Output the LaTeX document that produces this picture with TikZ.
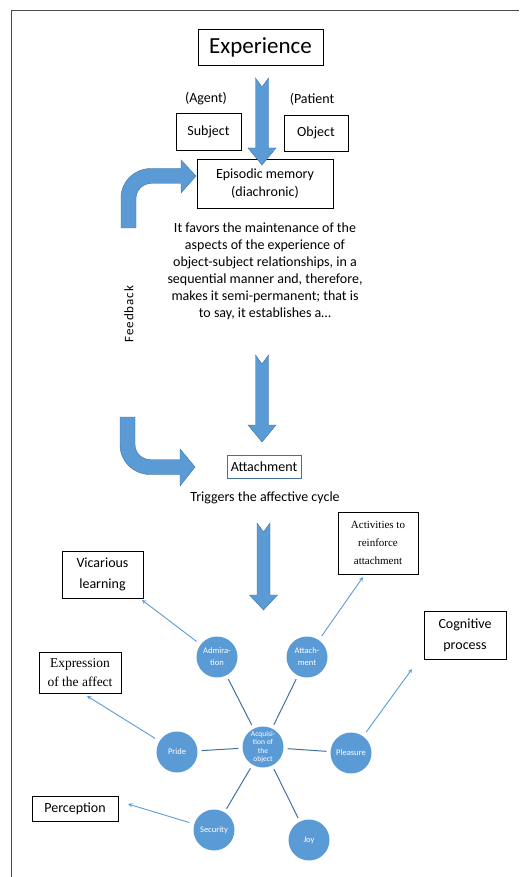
\documentclass[tikz,border=0pt]{standalone}
\usepackage{fontspec}
\setmainfont{Carlito}
\newfontfamily\timesfont{Liberation Serif}
\definecolor{officeblue}{HTML}{5B9BD5}
\definecolor{officeedge}{HTML}{41719C}
\begin{document}
\begin{tikzpicture}[>=stealth,x=1pt,y=-1pt,
	box/.style={draw=black,line width=0.8pt,align=center,inner sep=0pt},
	bubble/.style={circle,fill=officeblue,text=white,minimum size=41pt,inner sep=0pt,align=center,font=\fontsize{8.5}{12}\selectfont},
	spoke/.style={draw=officeedge,line width=1pt,shorten <=4pt,shorten >=4pt},
	outlink/.style={->,draw=officeblue,line width=0.9pt,shorten <=5pt}]
	\useasboundingbox (0,0) rectangle (519,877);
	\draw[gray!60!black,line width=0.8pt](519,10)--(11,10)--(11,877);
	% upper part
	\node[box,minimum width=125pt,minimum height=36pt,font=\fontsize{23}{26}\selectfont] (exp) at (260.5,47) {Experience};
	\node[font=\fontsize{14}{16}\selectfont] (agent) at (206,99) {(Agent)};
	\node[font=\fontsize{14}{16}\selectfont] (patient) at (312,99) {(Patient};
	\node[box,minimum width=65pt,minimum height=37pt,font=\fontsize{14}{16}\selectfont] (subj) at (208.5,131.5) {Subject};
	\node[box,minimum width=64pt,minimum height=36pt,font=\fontsize{14}{16}\selectfont] (obj) at (316,133) {Object};
	\node[box,minimum width=136pt,minimum height=49pt,font=\fontsize{14}{18}\selectfont] (epi) at (265,183.5) {Episodic memory\\(diachronic)};
	\node[align=center,font=\fontsize{14}{17}\selectfont] (favors) at (265,271.5) {It favors the maintenance of the\\aspects of the experience of\\object-subject relationships, in a\\sequential manner and, therefore,\\makes it semi-permanent; that is\\to say, it establishes a\dots};
	\node[rotate=90,font=\fontsize{13}{15}\selectfont\addfontfeatures{LetterSpace=7}] (feed) at (129,314) {Feedback};
	\node[box,draw=officeedge,minimum width=74pt,minimum height=23pt,font=\fontsize{14}{16}\selectfont] (attach) at (264,466.5) {Attachment};
	\node[font=\fontsize{14}{16}\selectfont] (trig) at (265,498) {Triggers the affective cycle};
	% block arrows
	\foreach \cx/\ya/\yb/\yc in {262/78/148/165,262/355/425/442,263.5/523/595/610}
		\filldraw[fill=officeblue,draw=officeedge,line width=0.4pt](\cx-6.5,\ya)--(\cx,\ya+9)--(\cx+6.5,\ya)--(\cx+6.5,\yb)--(\cx+14,\yb)--(\cx,\yc)--(\cx-14,\yb)--(\cx-6.5,\yb)--cycle;
	\filldraw[fill=officeblue,draw=officeedge,line width=0.4pt](121,228)--(121,198) .. controls (121,181.4) and (134.4,168.5) .. (151,168.5)--(181,168.5)--(181,160)--(196,176)--(181,193)--(181,183.5)--(151,183.5) .. controls (142.7,183.5) and (136,190.3) .. (136,198.5)--(136,228)--cycle;
	\filldraw[fill=officeblue,draw=officeedge,line width=0.4pt](120,417)--(120,445) .. controls (120,461.3) and (133.4,474.5) .. (150,474.5)--(180,474.5)--(180,486)--(195,467)--(180,449)--(180,459.5)--(150,459.5) .. controls (141.7,459.5) and (135,452.8) .. (135,444.5)--(135,417)--cycle;
	% affective cycle
	\node[bubble,font=\fontsize{7.5}{8.5}\selectfont] (acq) at (263,747) {Acquisi-\\tion of\\the\\object};
	\node[bubble] (adm) at (217,657) {Admira-\\tion};
	\node[bubble] (att) at (307,657) {Attach-\\ment};
	\node[bubble] (pri) at (177,752) {Pride};
	\node[bubble] (ple) at (351,753) {Pleasure};
	\node[bubble] (sec) at (214,830) {Security};
	\node[bubble] (joy) at (309,840) {Joy};
	\foreach \n in {adm,att,pri,ple,sec,joy}
		\draw[spoke](acq)--(\n);
	\node[box,minimum width=81pt,minimum height=47pt,font=\fontsize{14}{21}\selectfont] (vic) at (102.5,574.5) {Vicarious\\learning};
	\node[box,minimum width=80pt,minimum height=62pt,font=\timesfont\fontsize{11}{18}\selectfont] (act) at (378,543) {Activities to\\reinforce\\attachment};
	\node[box,minimum width=82pt,minimum height=48pt,font=\fontsize{14}{21}\selectfont] (cog) at (465,635) {Cognitive\\process};
	\node[box,minimum width=82pt,minimum height=41pt,font=\timesfont\fontsize{13.5}{19}\selectfont] (expr) at (80,672.5) {Expression\\of the affect};
	\node[box,minimum width=86pt,minimum height=25pt,font=\fontsize{14}{16}\selectfont] (perc) at (75,808.5) {Perception};
	\coordinate (vic-in) at (142,600);
	\coordinate (act-in) at (363,577);
	\coordinate (cog-in) at (412,669);
	\coordinate (expr-in) at (87,696);
	\coordinate (perc-in) at (128,804);
	\draw[outlink](adm)--(vic-in);
	\draw[outlink](att)--(act-in);
	\draw[outlink](ple)--(cog-in);
	\draw[outlink](pri)--(expr-in);
	\draw[outlink](sec)--(perc-in);
\end{tikzpicture}
\end{document}
